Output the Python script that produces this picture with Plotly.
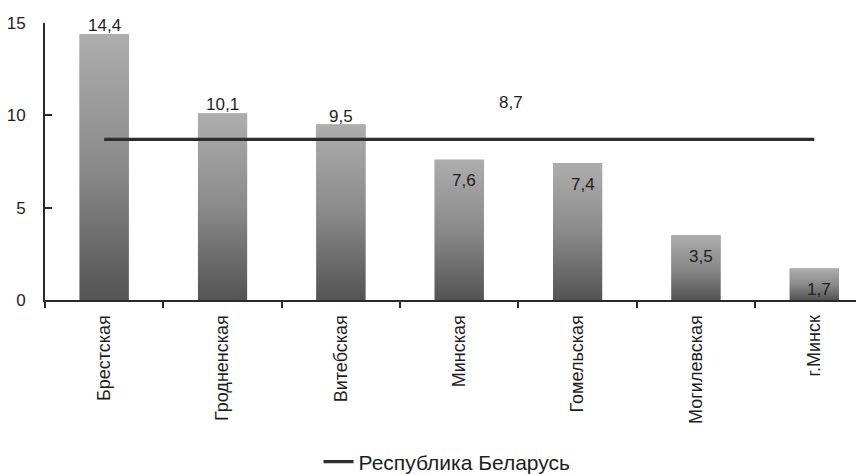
import plotly.graph_objects as go

categories = ["Брестская", "Гродненская", "Витебская", "Минская", "Гомельская", "Могилевская", "г.Минск"]
values = [14.4, 10.1, 9.5, 7.6, 7.4, 3.5, 1.7]
republic_value = 8.7
republic_name = "Республика Беларусь"
y_ticks = [0, 5, 10, 15]

BAR_W = 0.415
FONT = "Liberation Sans, Arial, sans-serif"
TXT = "#1e1e1e"

def fmt(v):
    return f"{v:.1f}".replace(".", ",")

idx = list(range(len(categories)))
fig = go.Figure()

# base bars
fig.add_trace(go.Bar(x=idx, y=values, width=BAR_W, marker=dict(color="#808080", line=dict(width=0)),
                     showlegend=False, hoverinfo="x+y"))

# gradient overlay per bar (built from the values)
for i, v in zip(idx, values):
    fig.add_trace(go.Scatter(
        x=[i - BAR_W / 2, i + BAR_W / 2, i + BAR_W / 2, i - BAR_W / 2, i - BAR_W / 2],
        y=[0, 0, v, v, 0], mode="lines", line=dict(width=0), fill="toself",
        fillgradient=dict(type="vertical", colorscale=[[0, "#545454"], [0.5, "#8a8a8a"], [1, "#adadad"]]),
        showlegend=False, hoverinfo="skip"))

# republic line
fig.add_trace(go.Scatter(x=idx, y=[republic_value] * len(idx), mode="lines",
                         line=dict(color="#2e2e2e", width=3.2), name=republic_name))

annotations = []
for i, v in zip(idx, values):
    if v >= 9:
        annotations.append(dict(x=i, y=v, text=fmt(v), showarrow=False, yanchor="bottom",
                                yshift=-3, font=dict(size=17, color=TXT, family=FONT)))
    else:
        annotations.append(dict(x=i, y=v, text=fmt(v), showarrow=False, yanchor="middle",
                                yshift=-21, xshift=5, font=dict(size=17, color=TXT, family=FONT)))
annotations.append(dict(x=3, y=republic_value, text=fmt(republic_value), showarrow=False,
                        yanchor="middle", yshift=37, xshift=52,
                        font=dict(size=17, color=TXT, family=FONT)))

# the page body adds an 8px offset, so the figure is sized to fit the 864x474 window
fig.update_layout(
    width=856, height=466,
    margin=dict(l=37, r=0, t=15, b=174, autoexpand=False),
    paper_bgcolor="white", plot_bgcolor="white",
    font=dict(family=FONT, color=TXT, size=17),
    separators=", ",
    annotations=annotations,
    showlegend=True,
    legend=dict(orientation="h", x=0.334, xanchor="left", y=-0.585, yanchor="middle",
                font=dict(size=21, color=TXT, family=FONT), bgcolor="rgba(0,0,0,0)"),
    xaxis=dict(range=[-0.5, 6.42], tickmode="array", tickvals=idx, ticktext=categories,
               tickangle=-90, ticks="", showgrid=False, zeroline=False, automargin=False,
               showline=True, linecolor="#2a2a2a", linewidth=2, ticklabelstandoff=6,
               tickfont=dict(size=18, color=TXT, family=FONT),
               minor=dict(tickmode="array", tickvals=[i + 0.5 for i in idx] + [-0.5],
                          ticks="outside", ticklen=6, tickwidth=2, tickcolor="#2a2a2a", showgrid=False)),
    yaxis=dict(range=[0, 15], tickmode="array", tickvals=y_ticks, ticks="inside", ticklen=7,
               tickwidth=2, tickcolor="#2a2a2a", showgrid=False, zeroline=False, automargin=False,
               showline=True, linecolor="#2a2a2a", linewidth=2, ticklabelstandoff=14,
               tickfont=dict(size=17, color=TXT, family=FONT)),
)

fig.write_html("out.html")
